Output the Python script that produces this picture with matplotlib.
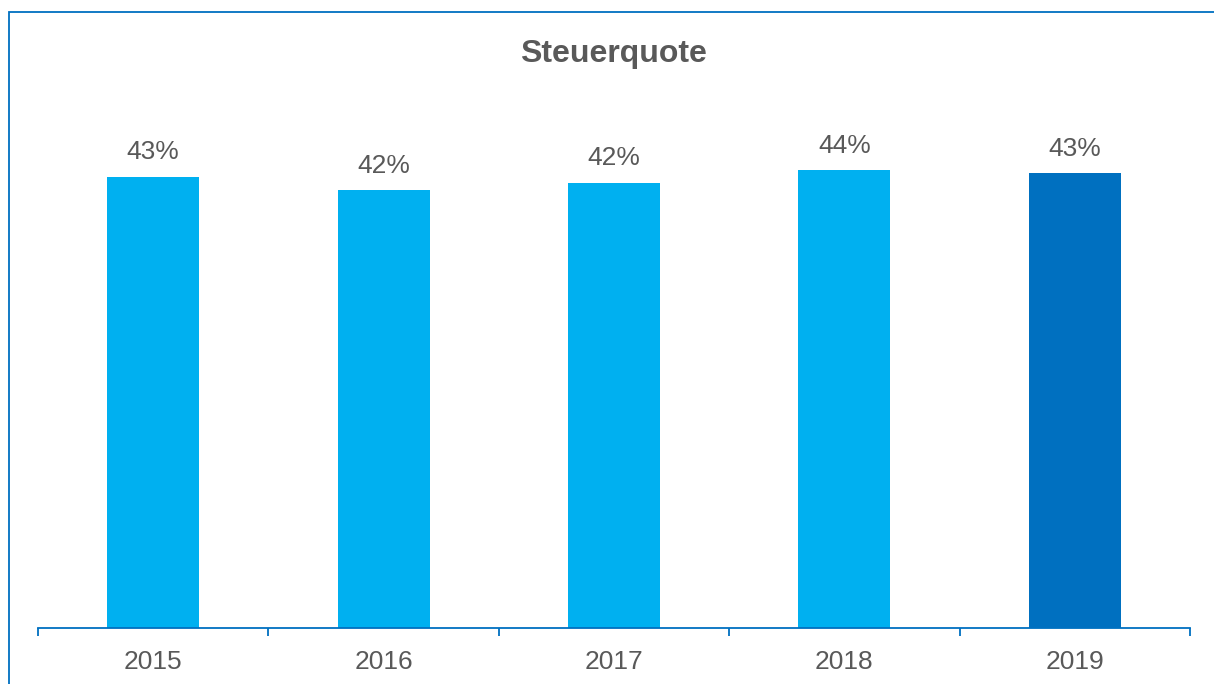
import numpy as np
import matplotlib.pyplot as plt
from matplotlib.patches import Rectangle
from matplotlib.ticker import FixedLocator

plt.rcParams['font.family'] = ['Liberation Sans', 'DejaVu Sans']

years = ['2015', '2016', '2017', '2018', '2019']
quote = [43.0, 41.7, 42.4, 43.6, 43.3]  # Steuerquote in %
labels = ['43%', '42%', '42%', '44%', '43%']
colors = ['#00B0F0', '#00B0F0', '#00B0F0', '#00B0F0', '#0070C0']

text_grey = '#595959'
axis_blue = '#0070C0'

fig = plt.figure(figsize=(12.14, 6.84), dpi=100)

# outer frame (only top and left edges visible in the crop)
fig.patches.append(Rectangle((9 / 1214, -0.1), 1.2, 1.1 - 12 / 684,
                             transform=fig.transFigure, fill=False,
                             edgecolor=axis_blue, linewidth=1.3))

ax = fig.add_axes([38 / 1214, 56 / 684, 1152 / 1214, 525 / 684])
x = np.arange(len(years))
ax.bar(x, quote, width=0.4, color=colors, zorder=2)

for xi, v, lab in zip(x, quote, labels):
    ax.annotate(lab, (xi, v), xytext=(0, 9), textcoords='offset points',
                ha='center', va='bottom', fontsize=19, color=text_grey)

ax.set_xlim(-0.5, len(years) - 0.5)
ax.set_ylim(0, 50)
ax.set_xticks(x)
ax.set_xticklabels(years, fontsize=19, color=text_grey)
ax.tick_params(axis='x', which='major', length=0, pad=16)
ax.xaxis.set_minor_locator(FixedLocator(np.arange(-0.5, len(years), 1.0)))
ax.tick_params(axis='x', which='minor', length=5.5, width=1.3, color=axis_blue)
ax.set_yticks([])
for s in ['top', 'right', 'left']:
    ax.spines[s].set_visible(False)
ax.spines['bottom'].set_color(axis_blue)
ax.spines['bottom'].set_linewidth(1.3)

fig.text(613 / 1214, 1 - 54 / 684, 'Steuerquote', ha='center', va='center',
         fontsize=23, fontweight='bold', color=text_grey)

fig.savefig('out.png', dpi=100)
